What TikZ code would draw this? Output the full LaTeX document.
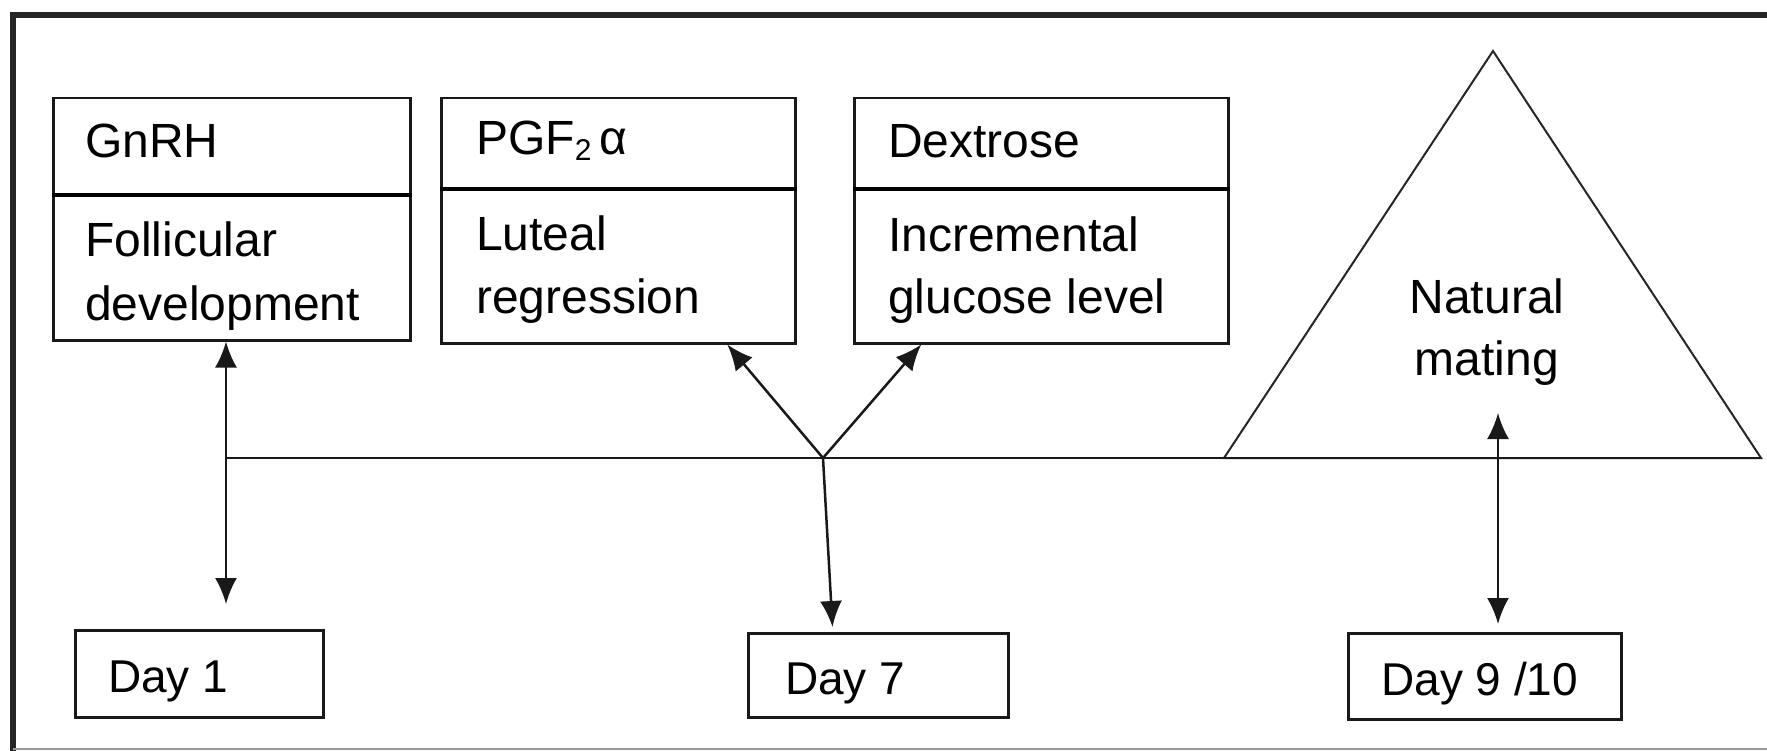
\documentclass[tikz,border=0pt]{standalone}
\usepackage{fontspec}
\setmainfont{Liberation Sans}
\usetikzlibrary{arrows.meta,calc}
\begin{document}
\begin{tikzpicture}[x=1pt,y=-1pt,
  box/.style={draw=black!90, line width=2.5pt, rectangle, inner sep=0pt, anchor=north west},
  daybox/.style={draw=black!90, line width=3pt, rectangle, inner sep=0pt, anchor=north west},
  divider/.style={draw=black, line width=4.5pt},
  txt/.style={font=\fontsize{48}{58}\selectfont, inner sep=0pt, anchor=base west},
  daytxt/.style={font=\fontsize{46}{55}\selectfont, inner sep=0pt, anchor=base west},
  conn/.style={draw=black!90, line width=2.5pt},
  >={Latex[length=26pt,width=22pt]}]
\useasboundingbox (0,0) rectangle (1767,751);
\fill[white] (0,0) rectangle (1767,751);
% frame
\draw[line width=6pt, black!85] (13,15.5) -- (1767,15.5);
\draw[line width=6pt, black!85] (13,12.5) -- (13,751);
\draw[line width=2.5pt, black!40] (13,749) -- (1767,749);
% top boxes
\node[box, minimum width=357pt, minimum height=242pt] (gnrh) at (52,97) {};
\node[box, minimum width=354pt, minimum height=245pt] (pgf) at (440,97) {};
\node[box, minimum width=374pt, minimum height=245pt] (dex) at (853,97) {};
\draw[divider] ($(gnrh.north west)+(0,98)$) -- ($(gnrh.north east)+(0,98)$);
\draw[divider] ($(pgf.north west)+(0,92)$) -- ($(pgf.north east)+(0,92)$);
\draw[divider] ($(dex.north west)+(0,92)$) -- ($(dex.north east)+(0,92)$);
% texts in boxes
\node[txt] (t1) at (85,158) {GnRH};
\node[txt] (t2) at (85,257) {Follicular};
\node[txt] (t3) at (85,320) {development};
\node[txt] (t4) at (476,155) {PGF{\fontsize{30}{30}\selectfont\raisebox{-6pt}{2}}\,α};
\node[txt] (t5) at (476,251) {Luteal};
\node[txt] (t6) at (476,313) {regression};
\node[txt] (t7) at (888,158) {Dextrose};
\node[txt] (t8) at (888,252) {Incremental};
\node[txt] (t9) at (888,313) {glucose level};
% triangle
\coordinate (apex) at (1493,51);
\coordinate (bl) at (1224,458);
\coordinate (br) at (1761,458);
\draw[line width=2pt, black!85] (apex) -- (bl) -- (br) -- cycle;
\node[txt, anchor=base] (t10) at (1487,313) {Natural};
\node[txt, anchor=base] (t11) at (1487,375) {mating};
% day boxes
\node[daybox, minimum width=248pt, minimum height=87pt] (d1) at (74,629) {};
\node[daybox, minimum width=260pt, minimum height=84pt] (d7) at (747,632) {};
\node[daybox, minimum width=273pt, minimum height=86pt] (d9) at (1347,632) {};
\node[daytxt] (t12) at (108,692) {Day 1};
\node[daytxt] (t13) at (785,694) {Day 7};
\node[daytxt] (t14) at (1381,695) {Day 9 /10};
% timeline
\coordinate (j1) at (226,458);
\coordinate (j7) at (823,458);
\coordinate (d1end) at (226,604);
\coordinate (nm) at (1498,413);
\coordinate (d9end) at (1498,624);
\draw[conn] (j1) -- (br);
\draw[conn,<->] (gnrh.south -| j1) -- (d1end);
\draw[conn,->] (j7) -- ($(pgf.south)+(109,0)$);
\draw[conn,->] (j7) -- ($(dex.south)+(-120,0)$);
\draw[conn,->] (j7) -- ($(d7.north)+(-46,-5)$);
\draw[conn,<->] (nm) -- (d9end);
\end{tikzpicture}
\end{document}
